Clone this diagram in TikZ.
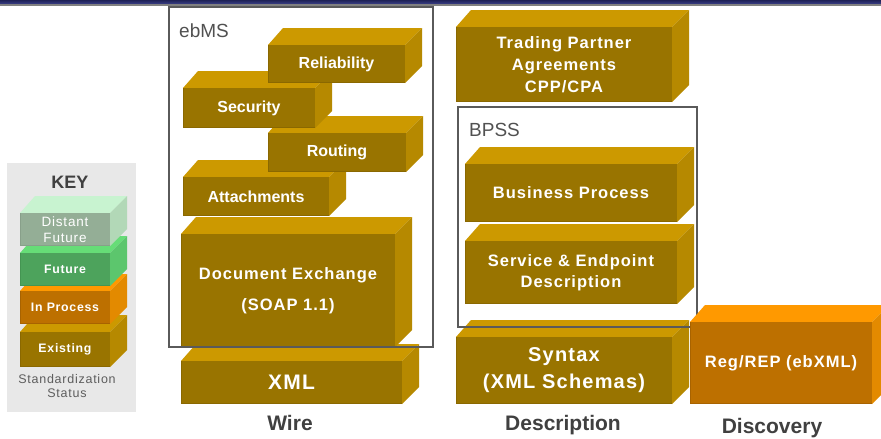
\documentclass[tikz,border=0pt]{standalone}
\usepackage{fontspec}
\setmainfont{Liberation Sans}
\newfontfamily\spf{Liberation Sans}[LetterSpace=6]
\definecolor{goldF}{HTML}{997400}
\definecolor{goldT}{HTML}{CC9900}
\definecolor{goldS}{HTML}{B68900}
\definecolor{goldE}{HTML}{8A6800}
\definecolor{orF}{HTML}{BD7000}
\definecolor{orT}{HTML}{FF9900}
\definecolor{orS}{HTML}{E38A00}
\definecolor{orE}{HTML}{A86300}
\definecolor{grF}{HTML}{4DA35C}
\definecolor{grT}{HTML}{66DD77}
\definecolor{grS}{HTML}{5CC66D}
\definecolor{grE}{HTML}{449552}
\definecolor{dgF}{HTML}{94AE96}
\definecolor{dgT}{HTML}{C8F3D0}
\definecolor{dgS}{HTML}{B2D8B7}
\definecolor{dgE}{HTML}{88A08A}
\definecolor{frameC}{HTML}{5A5A5A}
\definecolor{navyA}{HTML}{3A3F86}
\definecolor{navyB}{HTML}{1E2156}
\definecolor{keyBg}{HTML}{E8E8E8}
\definecolor{txtG}{HTML}{404040}
% #1 name, #2 x1, #3 y1, #4 x2, #5 y2, #6 colour prefix, #7 node style, #8 text
\newcommand\blk[8]{%
  \fill[#6T] (#2,#3) -- (#2+15,#3-17) -- (#4+17,#3-17) -- (#4,#3) -- cycle;
  \fill[#6S] (#4,#3) -- (#4+17,#3-17) -- (#4+17,#5-17) -- (#4,#5) -- cycle;
  \fill[#6F] (#2,#3) rectangle (#4,#5);
  \draw[#6E, line width=0.8pt] (#2+0.4,#3) -- (#2+0.4,#5-0.4) -- (#4,#5-0.4);
  \node[#7] (#1) at ({(#2+#4)/2},{(#3+#5)/2}) {#8};
}
\tikzset{
  lbl/.style={text=white, align=center, inner sep=0pt, font=\spf\bfseries\fontsize{16.5}{22}\selectfont},
  lblsm/.style={text=white, align=center, inner sep=0pt, font=\bfseries\fontsize{16}{20}\selectfont},
  keylbl/.style={text=white, align=center, inner sep=0pt, font=\spf\bfseries\fontsize{12.3}{15}\selectfont},
  framebox/.style={draw=frameC, line width=1.5pt},
  frametitle/.style={text=frameC!90!black, anchor=west, inner sep=0pt, font=\fontsize{19}{22}\selectfont},
  column/.style={text=txtG, inner sep=0pt, font=\bfseries\fontsize{21}{24}\selectfont},
}
\begin{document}
\begin{tikzpicture}[x=1pt,y=-1pt]
\useasboundingbox (0,0) rectangle (881,439);
\fill[white] (0,0) rectangle (881,439);
% top bar
\shade[top color=navyB, bottom color=navyA] (0,0) rectangle (881,4);
\fill[gray] (0,4) rectangle (881,5.5);

% key (drawn from the bottom up)
\fill[keyBg] (7,163) rectangle (136,412);
\node[column, font=\bfseries\fontsize{18}{20}\selectfont] (keyt) at (70,182) {KEY};
\blk{kexist}{20}{332}{110}{367}{gold}{keylbl}{Existing}
\blk{kproc}{20}{291}{110}{324}{or}{keylbl}{In Process}
\blk{kfut}{20}{253}{110}{286}{gr}{keylbl}{Future}
\blk{kdist}{20}{213}{110}{246}{dg}{keylbl, font=\spf\fontsize{13.5}{15.5}\selectfont}{Distant\\Future}
\node[text=txtG!85!white, align=center, inner sep=0pt, font=\spf\fontsize{12.5}{14}\selectfont] (kstat) at (67,386) {Standardization\\Status};

% wire column (drawn from the bottom up)
\blk{xml}{181}{361}{402}{404}{gold}{lbl, font=\spf\bfseries\fontsize{21}{24}\selectfont}{XML}
\blk{docex}{181}{234}{395}{347}{gold}{lbl, font=\spf\bfseries\fontsize{16.5}{31}\selectfont}{Document Exchange\\(SOAP 1.1)}
\blk{att}{183}{177}{329}{216}{gold}{lblsm}{Attachments}
\blk{rout}{268}{133}{406}{172}{gold}{lblsm}{Routing}
\blk{sec}{183}{88}{315}{128}{gold}{lblsm}{Security}
\blk{rel}{268}{45}{405}{83}{gold}{lblsm}{Reliability}
\draw[framebox] (169,7) rectangle (433,347);
\node[frametitle] (ebms) at (179,31) {ebMS};
\node[column] (wire) at (290,423) {Wire};

% description column
\blk{syn}{456}{337}{672}{404}{gold}{lbl, font=\spf\bfseries\fontsize{20}{27}\selectfont}{Syntax\\(XML Schemas)}
\blk{sep}{465}{241}{677}{304}{gold}{lbl, font=\spf\bfseries\fontsize{16.5}{21}\selectfont}{Service \& Endpoint\\Description}
\blk{bp}{465}{164}{677}{222}{gold}{lbl}{Business Process}
\blk{tpa}{456}{27}{672}{102}{gold}{lbl}{Trading Partner\\Agreements\\CPP/CPA}
\draw[framebox] (458,107) rectangle (697,327);
\node[frametitle] (bpss) at (469,130) {BPSS};
\node[column] (desc) at (563,425) {Description};

% discovery column
\blk{reg}{690}{322}{872}{404}{or}{lbl}{Reg/REP (ebXML)}
\node[column] (disc) at (772,428) {Discovery};
\end{tikzpicture}
\end{document}
